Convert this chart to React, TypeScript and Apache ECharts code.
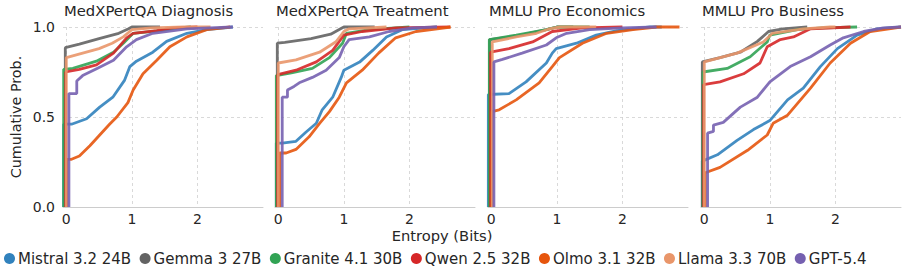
import React, { useEffect, useRef } from "react";
import * as echarts from "echarts";

const models = ["Mistral 3.2 24B", "Gemma 3 27B", "Granite 4.1 30B", "Qwen 2.5 32B", "Olmo 3.1 32B", "Llama 3.3 70B", "GPT-5.4"];
const colors = ["#3182bd", "#636363", "#31a354", "#d62728", "#e6550d", "#e9966a", "#7560b0"];
const panelTitles = ["MedXPertQA Diagnosis", "MedXPertQA Treatment", "MMLU Pro Economics", "MMLU Pro Business"];
const xTicks = [0, 1, 2];

// ECDF knots [entropy, cumulative prob]
const mistralDiag = [[-0.04,0],[-0.04,0.46],[0.08,0.46],[0.31,0.49],[0.51,0.555],[0.71,0.61],[0.89,0.705],[0.97,0.78],[1.07,0.81],[1.32,0.86],[1.53,0.92],[1.84,0.965],[2.14,0.985],[2.54,1.0]];
const gemmaDiag = [[-0.015,0],[-0.015,0.885],[0.2,0.905],[0.5,0.935],[0.8,0.965],[0.95,0.99],[1.0,1.0],[1.43,1.0]];
const graniteDiag = [[-0.04,0],[-0.04,0.765],[0.1,0.77],[0.46,0.81],[0.72,0.86],[0.87,0.91],[1.02,0.965],[1.43,0.98],[1.7,0.995],[1.9,1.0]];
const qwenDiag = [[-0.01,0],[-0.01,0.75],[0.2,0.765],[0.46,0.79],[0.72,0.855],[0.92,0.94],[1.02,0.965],[1.38,0.98],[1.63,0.995],[2.0,1.0]];
const olmoDiag = [[0.01,0],[0.01,0.265],[0.08,0.265],[0.2,0.283],[0.36,0.34],[0.51,0.4],[0.66,0.46],[0.77,0.5],[0.94,0.58],[1.02,0.65],[1.17,0.74],[1.38,0.815],[1.58,0.89],[1.84,0.945],[2.14,0.985],[2.5,1.0]];
const llamaDiag = [[0.0,0],[0.0,0.83],[0.25,0.855],[0.5,0.88],[0.7,0.91],[0.87,0.945],[1.0,0.985],[1.3,0.995],[1.8,1.0],[2.2,1.0]];
const gptDiag = [[0.04,0],[0.04,0.63],[0.16,0.63],[0.16,0.7],[0.25,0.73],[0.47,0.77],[0.72,0.815],[0.92,0.89],[1.07,0.93],[1.32,0.965],[1.84,0.99],[2.54,1.0]];

const mistralTreat = [[-0.03,0],[-0.03,0.355],[0.06,0.355],[0.27,0.365],[0.42,0.415],[0.58,0.465],[0.67,0.54],[0.83,0.61],[0.96,0.72],[1.0,0.76],[1.24,0.805],[1.44,0.87],[1.65,0.945],[1.89,0.985],[2.42,1.0]];
const gemmaTreat = [[-0.015,0],[-0.015,0.91],[0.1,0.915],[0.5,0.935],[0.8,0.96],[0.95,0.99],[1.0,1.0],[1.47,1.0]];
const graniteTreat = [[-0.03,0],[-0.03,0.73],[0.2,0.745],[0.52,0.77],[0.78,0.83],[0.98,0.91],[1.04,0.965],[1.39,0.985],[2.0,1.0]];
const qwenTreat = [[-0.01,0],[-0.01,0.735],[0.27,0.76],[0.58,0.806],[0.83,0.87],[1.0,0.955],[1.28,0.975],[1.8,0.995],[2.62,1.0]];
const olmoTreat = [[0.02,0],[0.02,0.3],[0.12,0.3],[0.27,0.32],[0.47,0.39],[0.63,0.465],[0.78,0.53],[0.93,0.61],[1.04,0.69],[1.28,0.76],[1.53,0.855],[1.79,0.94],[2.1,0.975],[2.63,1.0]];
const llamaTreat = [[0.0,0],[0.0,0.8],[0.27,0.817],[0.63,0.86],[0.88,0.918],[1.0,0.975],[1.08,0.99],[1.65,1.0]];
const gptTreat = [[0.06,0],[0.06,0.61],[0.14,0.61],[0.14,0.65],[0.24,0.67],[0.32,0.69],[0.52,0.72],[0.73,0.76],[0.93,0.83],[1.0,0.89],[1.08,0.93],[1.39,0.945],[1.69,0.975],[2.05,0.995],[2.42,1.0]];

const mistralEcon = [[-0.045,0],[-0.045,0.625],[0.27,0.63],[0.53,0.695],[0.84,0.8],[0.93,0.855],[0.99,0.88],[1.3,0.91],[1.6,0.955],[1.92,0.98],[2.42,1.0],[2.6,1.0]];
const gemmaEcon = [[-0.025,0],[-0.025,0.93],[0.38,0.95],[0.84,0.985],[1.0,1.0],[1.25,1.0]];
const graniteEcon = [[-0.03,0],[-0.03,0.93],[0.38,0.955],[0.84,0.985],[1.0,1.0],[1.5,1.0]];
const qwenEcon = [[-0.01,0],[-0.01,0.86],[0.27,0.88],[0.63,0.917],[0.93,0.975],[1.39,0.995],[2.0,1.0]];
const olmoEcon = [[0.01,0],[0.01,0.53],[0.12,0.54],[0.38,0.595],[0.73,0.69],[0.93,0.78],[1.04,0.83],[1.39,0.91],[1.76,0.965],[2.16,0.985],[2.52,1.0],[2.87,1.0]];
const llamaEcon = [[0.015,0],[0.015,0.917],[0.38,0.945],[0.69,0.965],[0.89,0.99],[1.04,1.0],[1.6,1.0]];
const gptEcon = [[0.04,0],[0.04,0.806],[0.17,0.82],[0.47,0.855],[0.84,0.9],[0.99,0.94],[1.15,0.965],[1.5,0.985],[2.0,0.995],[2.52,1.0]];

const mistralBus = [[-0.03,0],[-0.03,0.255],[0.2,0.29],[0.5,0.37],[0.75,0.43],[1.0,0.48],[1.27,0.595],[1.51,0.66],[1.77,0.78],[2.03,0.88],[2.33,0.955],[2.64,0.99],[3.0,1.0]];
const gemmaBus = [[-0.03,0],[-0.03,0.806],[0.24,0.83],[0.55,0.86],[0.81,0.92],[0.98,0.975],[1.2,0.99],[1.57,1.0]];
const graniteBus = [[-0.02,0],[-0.02,0.75],[0.35,0.77],[0.7,0.835],[0.96,0.917],[1.0,0.955],[1.42,0.985],[1.8,0.995],[2.33,1.0]];
const qwenBus = [[-0.01,0],[-0.01,0.68],[0.24,0.695],[0.6,0.74],[0.85,0.8],[0.96,0.89],[1.16,0.93],[1.36,0.945],[1.62,0.99],[2.23,1.0]];
const olmoBus = [[0.015,0],[0.015,0.19],[0.24,0.22],[0.66,0.315],[0.96,0.4],[1.05,0.465],[1.27,0.51],[1.62,0.66],[1.92,0.8],[2.23,0.91],[2.53,0.975],[3.0,1.0]];
const llamaBus = [[0.0,0],[0.0,0.806],[0.5,0.855],[0.9,0.917],[1.04,0.965],[1.51,0.99],[1.92,1.0],[2.0,1.0]];
const gptBus = [[0.05,0],[0.05,0.41],[0.14,0.42],[0.14,0.455],[0.29,0.47],[0.55,0.555],[0.81,0.61],[1.0,0.695],[1.31,0.78],[1.62,0.835],[1.92,0.9],[2.12,0.94],[2.43,0.975],[2.73,0.995],[3.0,1.0]];

const diagnosis = [mistralDiag, gemmaDiag, graniteDiag, qwenDiag, olmoDiag, llamaDiag, gptDiag];
const treatment = [mistralTreat, gemmaTreat, graniteTreat, qwenTreat, olmoTreat, llamaTreat, gptTreat];
const economics = [mistralEcon, gemmaEcon, graniteEcon, qwenEcon, olmoEcon, llamaEcon, gptEcon];
const business = [mistralBus, gemmaBus, graniteBus, qwenBus, olmoBus, llamaBus, gptBus];
const panels = [diagnosis, treatment, economics, business];

const FONT = "DejaVu Sans";
const TEXT = "#262626";
const gridLefts = [63, 275, 488, 701];
const GRID_W = 200;
const GRID_TOP = 27;
const GRID_H = 180;

export default function App() {
  const ref = useRef<HTMLDivElement>(null);
  useEffect(() => {
    if (!ref.current) return;
    const chart = echarts.init(ref.current, null, { renderer: "svg" });
    const grid = gridLefts.map((l) => ({ left: l, top: GRID_TOP, width: GRID_W, height: GRID_H }));
    const title = panelTitles.map((t, i) => ({
      text: t,
      left: gridLefts[i] + 1,
      top: 3,
      padding: 0,
      textStyle: { fontFamily: FONT, fontSize: 14.8, fontWeight: "normal", color: TEXT },
    }));
    const dashed = { show: true, lineStyle: { color: "#cfcfcf", type: [3, 3], width: 0.8 } };
    const xAxis = gridLefts.map((_, i) => ({
      type: "value",
      gridIndex: i,
      min: -0.05,
      max: 3.0,
      axisLine: { show: true, lineStyle: { color: "#cccccc", width: 1 } },
      axisTick: { show: false, customValues: xTicks },
      axisLabel: { customValues: xTicks, fontFamily: FONT, fontSize: 14, color: TEXT, margin: 5 },
      splitLine: dashed,
    }));
    const yAxis = gridLefts.map((_, i) => ({
      type: "value",
      gridIndex: i,
      min: 0,
      max: 1,
      interval: 0.5,
      name: i === 0 ? "Cumulative Prob." : "",
      nameLocation: "middle",
      nameGap: 40,
      nameTextStyle: { fontFamily: FONT, fontSize: 14.3, color: TEXT },
      axisLine: { show: false },
      axisTick: { show: false },
      axisLabel: {
        show: i === 0,
        formatter: (v: number) => v.toFixed(1),
        fontFamily: FONT,
        fontSize: 14,
        color: TEXT,
        margin: 8,
      },
      splitLine: dashed,
    }));
    const series: any[] = [];
    panels.forEach((panel, p) => {
      panel.forEach((pts, m) => {
        series.push({
          type: "line",
          name: models[m],
          xAxisIndex: p,
          yAxisIndex: p,
          data: pts,
          showSymbol: false,
          symbol: "none",
          clip: false,
          z: 2 + m,
          color: colors[m],
          lineStyle: { width: 2.8, color: colors[m], opacity: 0.9 },
        });
      });
    });
    chart.setOption({
      animation: false,
      backgroundColor: "#ffffff",
      title,
      grid,
      xAxis,
      yAxis,
      legend: {
        data: models,
        icon: "circle",
        itemWidth: 11,
        itemHeight: 11,
        itemGap: 8.5,
        left: 4,
        top: 251,
        padding: 0,
        textStyle: { fontFamily: FONT, fontSize: 15, color: TEXT, padding: [0, 0, 0, -2] },
      },
      graphic: [
        {
          type: "text",
          x: 442,
          y: 235,
          style: {
            text: "Entropy (Bits)",
            fontFamily: FONT,
            fontSize: 14.7,
            fill: TEXT,
            textAlign: "center",
            textVerticalAlign: "middle",
          },
        },
      ],
      series,
    });
    return () => chart.dispose();
  }, []);
  return <div ref={ref} style={{ width: 907, height: 273, position: "absolute", left: 0, top: 0 }} />;
}
